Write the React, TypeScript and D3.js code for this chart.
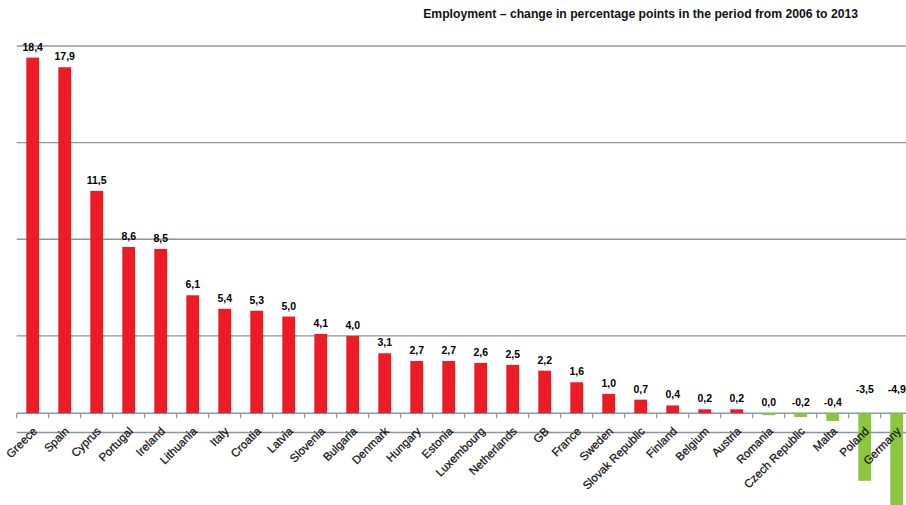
import React from "react";
import * as d3 from "d3";

const countries = [
  "Greece", "Spain", "Cyprus", "Portugal", "Ireland", "Lithuania", "Italy", "Croatia",
  "Latvia", "Slovenia", "Bulgaria", "Denmark", "Hungary", "Estonia", "Luxembourg",
  "Netherlands", "GB", "France", "Sweden", "Slovak Republic", "Finland", "Belgium",
  "Austria", "Romania", "Czech Republic", "Malta", "Poland", "Germany",
];
const changes = [
  18.4, 17.9, 11.5, 8.6, 8.5, 6.1, 5.4, 5.3, 5.0, 4.1, 4.0, 3.1, 2.7, 2.7, 2.6, 2.5,
  2.2, 1.6, 1.0, 0.7, 0.4, 0.2, 0.2, -0.04, -0.2, -0.4, -3.5, -4.9,
];
const gridValues = [-1, 4, 9, 14, 19];
const title = "Employment \u2013 change in percentage points in the period from 2006 to 2013";

const W = 906;
const H = 505;
const RED = "#ed1c24";
const GREEN = "#8cc63f";
const GRID = "#8a9899";

function fmt(v: number): string {
  const s = Math.abs(v) < 0.05 ? "0.0" : v.toFixed(1);
  return s.replace(".", ",");
}

export default function App() {
  const x = d3.scaleBand<string>().domain(countries).range([16.7, 16.7 + 32 * countries.length]).paddingInner(0.6).paddingOuter(0.3);
  const y = d3.scaleLinear().domain([-1, 19]).range([432.5, 46]);
  const y0 = y(0);
  const step = x.step();
  const start = 16.7;

  return (
    <svg width={W} height={H} style={{ position: "absolute", left: 0, top: 0, background: "#fff" }}
      fontFamily="'Liberation Sans', Arial, sans-serif">
      <text x={858} y={17.5} textAnchor="end" fontSize={12.2} fontWeight="bold" fill="#111">{title}</text>
      {gridValues.map((g) => (
        <line key={g} x1={start} x2={W} y1={y(g)} y2={y(g)} stroke={GRID} strokeWidth={1.4} />
      ))}
      <line x1={start} x2={W} y1={y0} y2={y0} stroke={GRID} strokeWidth={1.4} />
      {d3.range(countries.length + 1).map((i) => (
        <line key={"t" + i} x1={start + i * step} x2={start + i * step} y1={y0} y2={y0 + 5} stroke={GRID} strokeWidth={1.2} />
      ))}
      {countries.map((c, i) => {
        const v = changes[i];
        const bx = x(c)!;
        const top = Math.min(y(v), y0);
        const h = Math.max(Math.abs(y(v) - y0), 2);
        return (
          <rect key={c} x={bx} y={top} width={x.bandwidth()} height={h} fill={v > 0 ? RED : GREEN} />
        );
      })}
      {countries.map((c, i) => {
        const v = changes[i];
        const cx = x(c)! + x.bandwidth() / 2;
        const ly = v > 0 ? y(v) - 7 : y0 - 7 - (v <= -1 ? 13 : 0);
        return (
          <text key={"v" + c} x={cx} y={ly} textAnchor="middle" fontSize={10.5} fontWeight="bold" fill="#000">{fmt(v)}</text>
        );
      })}
      {countries.map((c) => {
        const cx = x(c)! + x.bandwidth() / 2 + 5;
        const ly = 432;
        return (
          <text key={"l" + c} x={cx} y={ly} textAnchor="end" fontSize={11.5} fill="#111"
            stroke="#111" strokeWidth={0.25}
            transform={`rotate(-45 ${cx} ${ly})`}>{c}</text>
        );
      })}
    </svg>
  );
}
